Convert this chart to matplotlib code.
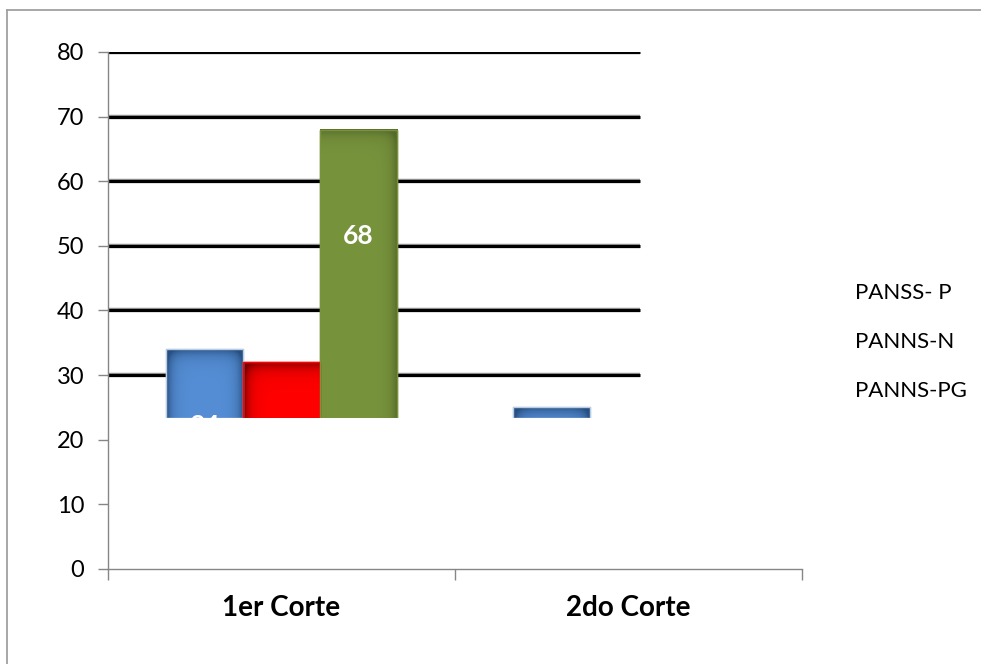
import numpy as np
import matplotlib.pyplot as plt
from matplotlib.patches import Rectangle
from matplotlib.lines import Line2D
from matplotlib.colors import to_rgb

plt.rcParams['font.family'] = ['Lato', 'DejaVu Sans']

# Datos del gráfico
categorias = ['1er Corte', '2do Corte']
series = ['PANSS- P', 'PANNS-N', 'PANNS-PG']
panss_p = [34, 25]
panns_n = [32, 0]
panns_pg = [68, 0]
valores = [panss_p, panns_n, panns_pg]
y_ticks = [0, 10, 20, 30, 40, 50, 60, 70, 80]

# Etiquetas de datos visibles: (serie, categoria, altura del texto)
etiquetas = [(0, 0, 22.2), (2, 0, 51.6)]

# Zona visible del área de trazado
piso = 23.4
x_fin = 1.033

# Colores: base, sombra, bordes sombreados, contorno
estilos = [
    ('#558ED5', '#274F80', ('left', 'right', 'top'), '#B9CDE5'),
    ('#FF0000', '#7A0000', ('left', 'top'), '#FF0000'),
    ('#77933C', '#55692A', ('right', 'top'), '#77933C'),
]

fig = plt.figure(figsize=(9.81, 6.64), dpi=100)
ax = fig.add_axes([0.1101, 0.1431, 0.7074, 0.7786])

ventana = Rectangle((-0.5, piso), x_fin + 0.5, 80 - piso, transform=ax.transData)

# Líneas de división horizontales
for t in y_ticks:
    if t > piso:
        ax.plot([-0.5, x_fin], [t, t], color='#909090', lw=3.2, zorder=1,
                solid_capstyle='butt')
        ax.plot([-0.5, x_fin], [t, t], color='black', lw=2.2, zorder=1.1,
                solid_capstyle='butt')

ancho = 0.222
x = np.arange(len(categorias))


def sombreado(x0, x1, y0, y1, base, oscuro, lados):
    w, h = 60, 200
    u = np.linspace(0, 1, w)[None, :]
    yy = np.linspace(y1, y0, h)[:, None]
    d = np.zeros((h, w))
    if 'left' in lados:
        d = d + np.exp(-u / 0.07)
    if 'right' in lados:
        d = d + np.exp(-(1 - u) / 0.07)
    if 'top' in lados:
        d = d + 0.9 * np.exp(-(y1 - yy) / 1.0)
    d = np.clip(d, 0, 1)[..., None]
    img = np.array(to_rgb(base)) * (1 - d) + np.array(to_rgb(oscuro)) * d
    im = ax.imshow(img, extent=(x0, x1, y0, y1), aspect='auto', zorder=2.5,
                   interpolation='bilinear')
    im.set_clip_path(ventana)


for i, (nombre, vals) in enumerate(zip(series, valores)):
    base, oscuro, lados, borde = estilos[i]
    pos = x + (i - 1) * ancho
    barras = ax.bar(pos, vals, width=ancho, color=base, edgecolor=borde,
                    lw=1.0, zorder=2, label=nombre)
    for b, v in zip(barras, vals):
        b.set_clip_path(ventana)
        if v > piso:
            sombreado(b.get_x(), b.get_x() + ancho, piso, v, base, oscuro, lados)
            marco = Rectangle((b.get_x(), piso), ancho, v - piso, fill=False,
                              edgecolor=borde, lw=1.0, zorder=2.6)
            ax.add_patch(marco)
            marco.set_clip_path(ventana)

for i, j, yt in etiquetas:
    txt = ax.text(x[j] + (i - 1) * ancho, yt, str(valores[i][j]), color='white',
                  fontsize=19, fontweight='bold', ha='center', va='center',
                  zorder=3)
    txt.set_clip_path(ventana)

ax.set_xlim(-0.5, 1.5)
ax.set_ylim(0, 80)
ax.set_yticks(y_ticks)
ax.tick_params(axis='y', direction='out', length=7, width=1, color='#868686',
               labelsize=17, pad=10)
ax.set_xticks([-0.5, 0.5, 1.5])
ax.set_xticklabels([])
ax.tick_params(axis='x', which='major', direction='out', length=8, width=1,
               color='#868686')
ax.set_xticks(x, minor=True)
ax.set_xticklabels(categorias, minor=True, fontsize=20, fontweight='bold')
ax.tick_params(axis='x', which='minor', length=0, pad=19)
for s in ['top', 'right']:
    ax.spines[s].set_visible(False)
for s in ['left', 'bottom']:
    ax.spines[s].set_color('#868686')
    ax.spines[s].set_linewidth(1)

# Leyenda sin marcadores
for k, nombre in enumerate(series):
    fig.text(855 / 981, 1 - (293 + 49 * k) / 664, nombre, fontsize=16,
             ha='left', va='center')

# Borde del área del gráfico
fig.add_artist(Line2D([7 / 981, 7 / 981], [0, 1 - 10 / 664], color='#A0A0A0',
                      lw=1.3, transform=fig.transFigure))
fig.add_artist(Line2D([7 / 981, 1.01], [1 - 10 / 664, 1 - 10 / 664],
                      color='#A0A0A0', lw=1.3, transform=fig.transFigure))

fig.savefig('out.png', dpi=100)
